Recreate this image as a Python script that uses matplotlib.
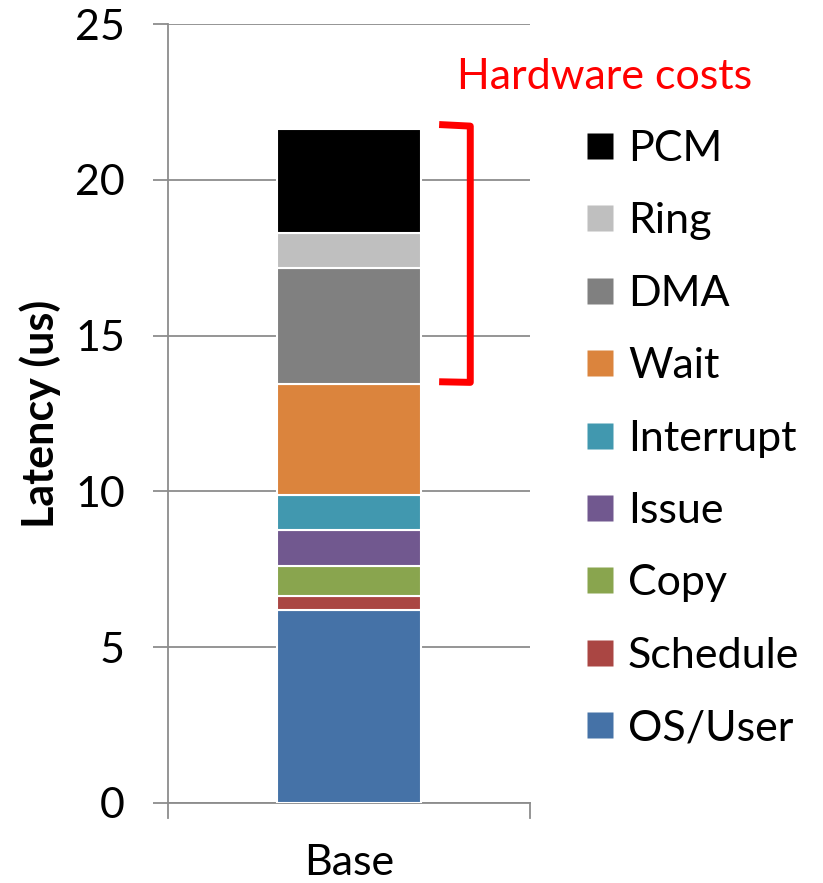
import numpy as np
import matplotlib.pyplot as plt
from matplotlib.lines import Line2D

plt.rcParams['font.family'] = ['Lato', 'DejaVu Sans']

# Stack components (bottom to top), latency in us
components = ['OS/User', 'Schedule', 'Copy', 'Issue', 'Interrupt', 'Wait', 'DMA', 'Ring', 'PCM']
latency = [6.19, 0.45, 0.96, 1.16, 1.12, 3.57, 3.72, 1.12, 3.34]
colors = ['#4572A7', '#AA4643', '#89A54E', '#71588F', '#4198AF',
          '#DB843D', '#808080', '#BFBFBF', '#000000']
category = ['Base']
yticks = [0, 5, 10, 15, 20, 25]

fig = plt.figure(figsize=(8.23, 8.83), dpi=100)
ax = fig.add_axes([0.2041, 0.0909, 0.4399, 0.8816])

# Stacked bar
bottom = 0.0
for name, val, c in zip(components, latency, colors):
    ax.bar(0, val, width=0.40, bottom=bottom, color=c, edgecolor='white',
           linewidth=1.5, zorder=3, label=name)
    bottom += val

ax.set_xlim(-0.5, 0.5)
ax.set_ylim(0, 25)
ax.set_yticks(yticks)
ax.set_xticks([0])
ax.set_xticklabels(category)
ax.yaxis.grid(True, color='#8c8c8c', linewidth=1.3, zorder=0)
ax.set_axisbelow(True)

# Axis styling
for s in ['top', 'right']:
    ax.spines[s].set_visible(False)
ax.spines['left'].set_color('#8c8c8c')
ax.spines['bottom'].set_color('#8c8c8c')
ax.spines['left'].set_linewidth(1.3)
ax.spines['bottom'].set_linewidth(1.3)
ax.tick_params(axis='y', length=11, width=1.3, color='#8c8c8c', labelsize=31, pad=20)
ax.tick_params(axis='x', length=0, labelsize=31, pad=30)
# category boundary ticks on x axis
for xb in (-0.5, 0.5):
    ax.plot([xb, xb], [0, -0.5], color='#8c8c8c', lw=1.3, clip_on=False)
ax.set_ylabel('Latency (us)', fontsize=31, fontweight='bold', labelpad=10)

# Hardware cost bracket (PCM + Ring + DMA)
hw_lo = sum(latency[:6])
hw_hi = sum(latency)
ax.plot([0.249, 0.335, 0.335, 0.249], [hw_hi + 0.15, hw_hi + 0.1, hw_lo + 0.05, hw_lo + 0.07],
        color='red', lw=5, solid_joinstyle='round', solid_capstyle='butt', zorder=4)

# Legend (top entry = top of stack)
handles = [Line2D([], [], marker='s', markersize=19, linestyle='none',
                  markerfacecolor=c, markeredgecolor='none')
           for c in colors][::-1]
leg = fig.legend(handles, components[::-1], loc='upper left',
                 bbox_to_anchor=(0.708, 0.853), frameon=False, fontsize=31,
                 labelspacing=0.80, handlelength=0.8, handletextpad=0.25,
                 borderaxespad=0, borderpad=0)
fig.text(0.555, 0.913, 'Hardware costs', color='red', fontsize=31, va='center', ha='left')

fig.savefig('out.png', dpi=100)
